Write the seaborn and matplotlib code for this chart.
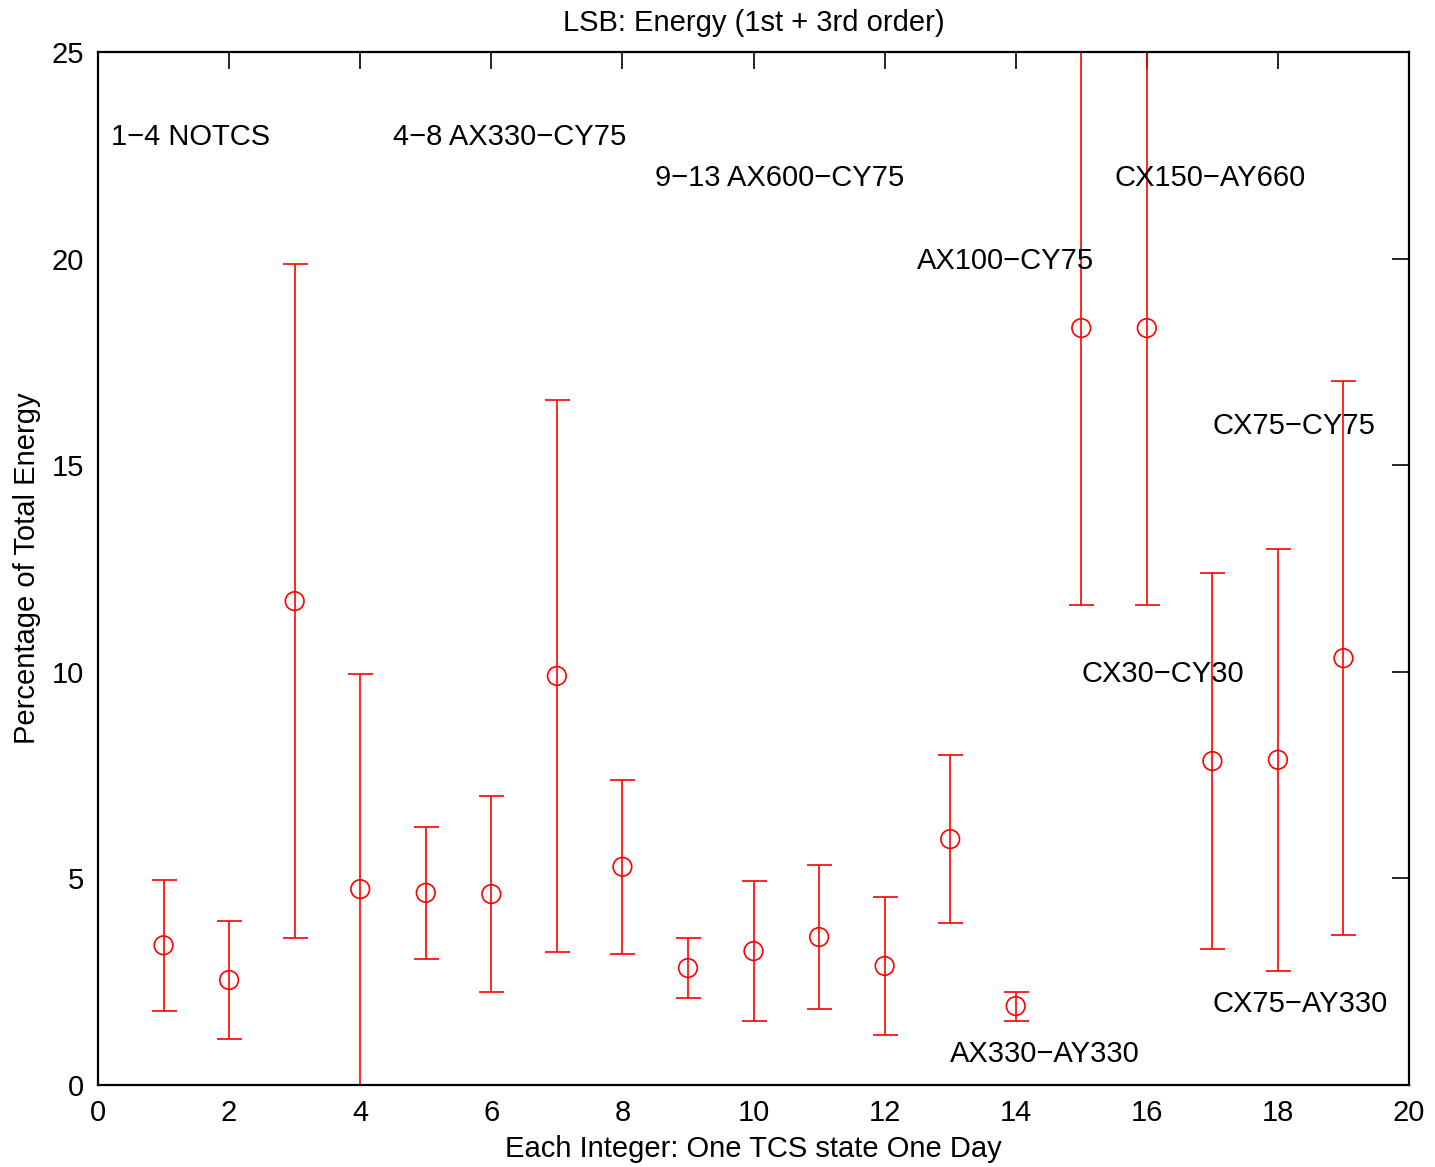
import numpy as np
import matplotlib
matplotlib.use("Agg")
import matplotlib.pyplot as plt
import seaborn as sns
import pandas as pd

# data
state = [1, 2, 3, 4, 5, 6, 7, 8, 9, 10, 11, 12, 13, 14, 15, 16, 17, 18, 19]
energy = [3.38, 2.54, 11.71, 4.74, 4.65, 4.62, 9.90, 5.28, 2.83, 3.24, 3.58, 2.88,
          5.95, 1.91, 18.32, 18.32, 7.84, 7.87, 10.33]
err = [1.59, 1.43, 8.16, 5.21, 1.60, 2.38, 6.68, 2.11, 0.73, 1.70, 1.74, 1.67,
       2.03, 0.35, 6.70, 6.70, 4.55, 5.10, 6.70]

label_text = ["1\u22124 NOTCS", "4\u22128 AX330\u2212CY75", "9\u221213 AX600\u2212CY75",
              "CX150\u2212AY660", "AX100\u2212CY75", "CX75\u2212CY75", "CX30\u2212CY30",
              "CX75\u2212AY330", "AX330\u2212AY330"]
label_x = [0.2, 4.5, 8.5, 15.5, 12.5, 17.0, 15.0, 17.0, 13.0]
label_y = [22.95, 22.95, 21.95, 21.95, 19.95, 15.95, 9.95, 1.95, 0.75]

df = pd.DataFrame({"state": state, "energy": energy, "err": err})

sns.set_style("white")
plt.rcParams['font.family'] = ['Liberation Sans', 'DejaVu Sans']
plt.rcParams.update({"text.color": "black", "axes.labelcolor": "black",
                     "xtick.color": "black", "ytick.color": "black"})

fig = plt.figure(figsize=(14.35, 11.67), dpi=100)
ax = fig.add_axes([0.0683, 0.0703, 0.9136, 0.8851])

ax.errorbar(df["state"], df["energy"], yerr=df["err"], fmt="none",
            ecolor="red", elinewidth=1.2, capsize=9, capthick=1.2)
sns.scatterplot(data=df, x="state", y="energy", ax=ax, marker="o", s=180,
                facecolor="none", edgecolor="red", linewidth=1.2, zorder=3)

for t, x, y in zip(label_text, label_x, label_y):
    ax.text(x, y, t, fontsize=21, ha="left", va="center", color="black")

ax.set_xlim(0, 20)
ax.set_ylim(0, 25)
ax.set_xticks(np.arange(0, 21, 2))
ax.set_yticks(np.arange(0, 26, 5))
ax.tick_params(direction="in", length=12, width=1.2, labelsize=21,
               top=True, right=True, pad=10)
for sp in ax.spines.values():
    sp.set_visible(True)
    sp.set_color("black")
    sp.set_linewidth(1.6)

ax.set_title("LSB: Energy (1st + 3rd order)", fontsize=21, pad=15)
ax.set_xlabel("Each Integer: One TCS state One Day", fontsize=21, labelpad=6)
ax.set_ylabel("Percentage of Total Energy", fontsize=21, labelpad=8)

fig.savefig("out.png", dpi=100)
